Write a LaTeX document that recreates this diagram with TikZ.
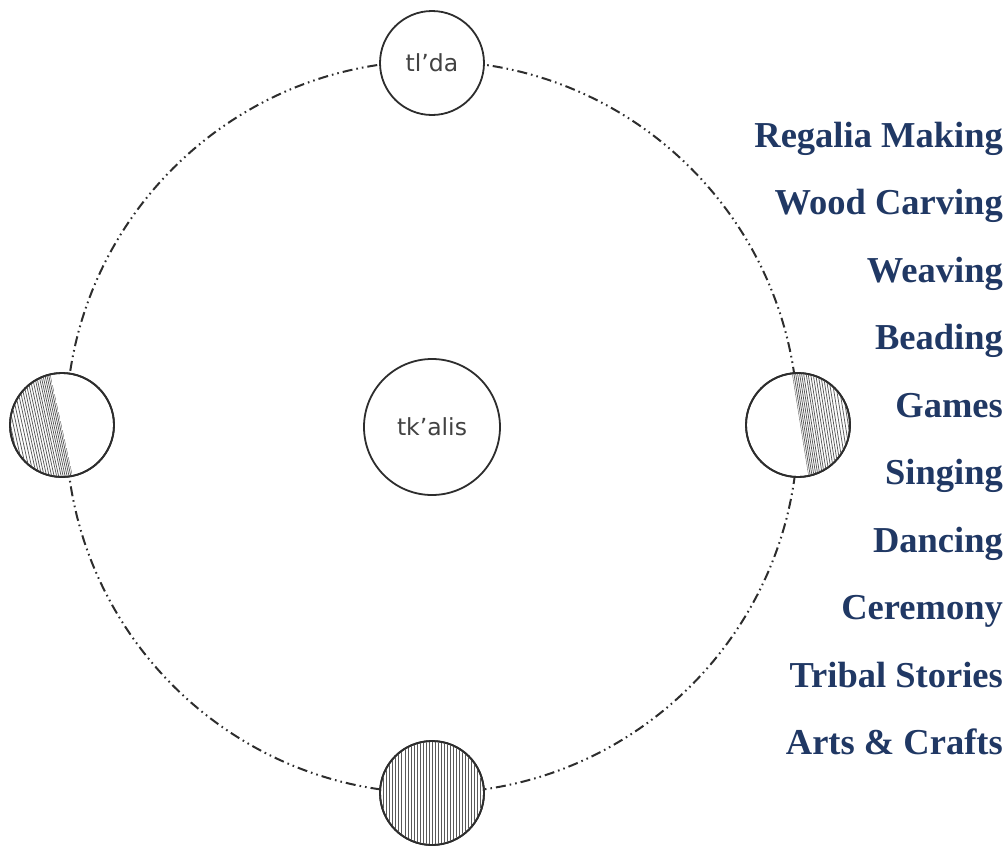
\documentclass[tikz,border=0pt]{standalone}
\usepackage{fontspec}
\setmainfont{Liberation Serif}
\newfontfamily\handfont{DejaVu Sans}
\usetikzlibrary{positioning}
\definecolor{navy}{RGB}{32,56,100}
\definecolor{ink}{RGB}{45,45,45}

\begin{document}
\begin{tikzpicture}
	[x=1pt, y=-1pt,
	% STYLES
	% The ring style is used for the dash-dot-dot circle
	ring/.style={draw=ink, line width=2pt, dash pattern=on 10pt off 4pt on 1.6pt off 4pt on 1.6pt off 4pt},
	% The disc style is used for the small circles on the ring
	disc/.style={circle, draw=ink, line width=1.8pt, fill=white, minimum size=104pt, inner sep=0pt, text=ink!90, font=\handfont\fontsize{23.5}{26}\selectfont},
	hub/.style={disc, minimum size=136pt},
	hatch/.style={draw=black!65, line width=0.75pt},
	% The activity style is used for the list on the right
	activity/.style={anchor=base east, inner sep=0pt, text=navy, font=\bfseries\fontsize{36.5}{40}\selectfont}]
	\useasboundingbox (0,0) rectangle (1008,846);
	% Draw the ring
	\coordinate (mid) at (432,427);
	\draw[ring] (mid) circle[radius=366pt];
	% Draw the circles
	\node[hub] (tkalis) at (mid) {tk’alis};
	\node[disc] (tlda) at (432,63) {tl’da};
	\node[disc] (west) at (62,425) {};
	\node[disc] (east) at (798,425) {};
	\node[disc] (south) at (432,793) {};
	%%%%%%%%%%%%%%%
	% Hatching
	% west
	\begin{scope}
		\clip (west.center) circle[radius=51pt];
		\clip (38.3,320) -- (84.5,530) -- (0,530) -- (0,320) -- cycle;
		\foreach \d in {0,1.8,3.6,5.5,7.5,9.5,11.5,14,16,18.5,21,23.5,26,28.5,31,33.5,36,39,42,45,48,51,54,57,60,63}
			\draw[hatch] (38.3-\d,320) -- (84.5-\d,530);
	\end{scope}
	% east
	\begin{scope}
		\clip (east.center) circle[radius=51pt];
		\clip (783.5,320) -- (817.1,530) -- (870,530) -- (870,320) -- cycle;
		\foreach \d in {0,1.8,3.6,5.5,7.5,9.5,11.5,14,16,18.5,21,23.5,26,28.5,31,33.5,36,39,42,45,48,51,54,57,60,63}
			\draw[hatch] (783.5+\d,320) -- (817.1+\d,530);
	\end{scope}
	% south
	\begin{scope}
		\clip (south.center) circle[radius=51pt];
		\foreach \x in {380,383.5,386,389.5,392,395.5,398,401.5,405,408,411.5,414,417,420,423.5,426,429,432,435.5,438,441,444.5,447,450,453.5,456,459,462.5,465,468,471.5,474,477,480.5,483}
			\draw[hatch] (\x,735) -- (\x,850);
	\end{scope}
	\draw[ink, line width=1.8pt] (west.center) circle[radius=52pt];
	\draw[ink, line width=1.8pt] (east.center) circle[radius=52pt];
	\draw[ink, line width=1.8pt] (south.center) circle[radius=52pt];
	%%%%%%%%%%%%%%%
	% Activities
	\node[activity] (regalia) at (1003,147) {Regalia Making};
	\node[activity] (carving) at (1003,214.5) {Wood Carving};
	\node[activity] (weaving) at (1003,282) {Weaving};
	\node[activity] (beading) at (1003,349.5) {Beading};
	\node[activity] (games) at (1003,417) {Games};
	\node[activity] (singing) at (1003,484.5) {Singing};
	\node[activity] (dancing) at (1003,552) {Dancing};
	\node[activity] (ceremony) at (1003,619.5) {Ceremony};
	\node[activity] (stories) at (1003,687) {Tribal Stories};
	\node[activity] (crafts) at (1003,754.5) {Arts \& Crafts};
\end{tikzpicture}
\end{document}
